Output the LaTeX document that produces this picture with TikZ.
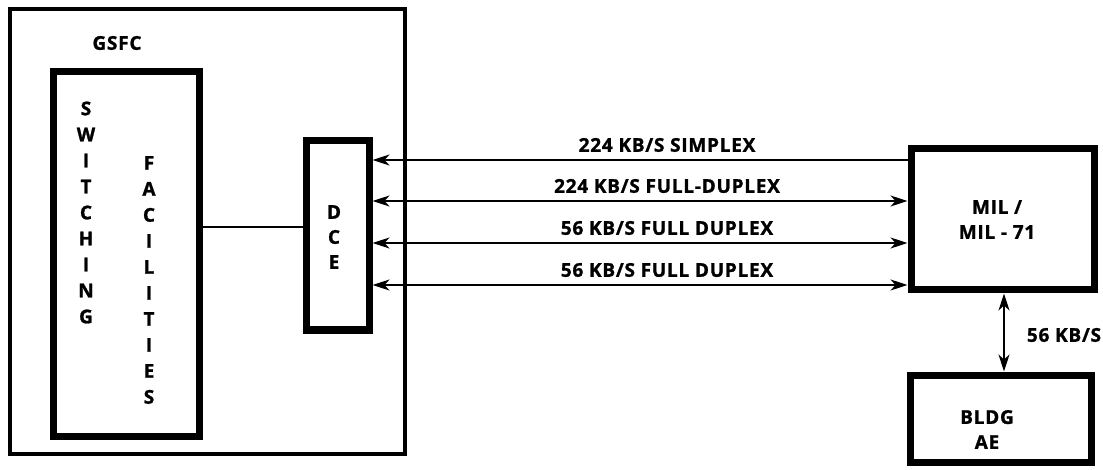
\documentclass[tikz,border=0pt]{standalone}
\usepackage{fontspec}
\newfontfamily\labfont{Open Sans}[LetterSpace=4, BoldFeatures={FakeBold=1.2}]
\usetikzlibrary{arrows.meta}
\begin{document}
\begin{tikzpicture}[x=1pt,y=-1pt,
  thickbox/.style={draw, line width=7pt, rectangle, inner sep=0pt},
  outerbox/.style={draw, line width=4pt, rectangle, inner sep=0pt},
  lbl/.style={font={\labfont\bfseries\fontsize{19}{25}\selectfont}, align=center, inner sep=0pt},
  col/.style={font={\labfont\bfseries\fontsize{19}{26}\selectfont}, align=center, inner sep=0pt},
  conn/.style={line width=2pt},
  mytip/.tip={Stealth[length=17pt,width=11pt,inset=5pt]}
]
\useasboundingbox[fill=white] (0,0) rectangle (1103,470);
% boxes
\node[outerbox, minimum width=395pt, minimum height=445pt] (gsfc) at (207.5,231.5) {};
\node[thickbox, minimum width=146pt, minimum height=364pt] (sw) at (126,254) {};
\node[thickbox, minimum width=63pt, minimum height=189pt] (dce) at (337.5,235.5) {};
\node[thickbox, minimum width=183pt, minimum height=141pt] (mil) at (1002.5,219.5) {};
\node[thickbox, minimum width=181pt, minimum height=87pt] (bldg) at (1000.5,418.5) {};
% texts
\node[lbl] (tgsfc) at (117,43) {GSFC};
\node[col] (tsw) at (86,212.5) {S\\W\\I\\T\\C\\H\\I\\N\\G};
\node[col] (tfac) at (149,280) {F\\A\\C\\I\\L\\I\\T\\I\\E\\S};
\node[col, font={\labfont\bfseries\fontsize{19}{25}\selectfont}] (tdce) at (334,237) {D\\C\\E};
\node[lbl] (tmil) at (997,219.5) {MIL /\\MIL - 71};
\node[lbl] (tbldg) at (987,429.5) {BLDG\\AE};
% connectors
\draw[conn] (sw.east |- 0,227) -- (dce.west |- 0,227);
\draw[conn, -{mytip}] (mil.west |- 0,160) -- (dce.east |- 0,160);
\draw[conn, {mytip}-{mytip}] (mil.west |- 0,201) -- (dce.east |- 0,201);
\draw[conn, {mytip}-{mytip}] (mil.west |- 0,243) -- (dce.east |- 0,243);
\draw[conn, {mytip}-{mytip}] (mil.west |- 0,285) -- (dce.east |- 0,285);
\draw[conn, {mytip}-{mytip}] (mil.south -| 1004,0) -- (bldg.north -| 1004,0);
% connector labels
\node[lbl] (l1) at (667,145) {224 KB/S SIMPLEX};
\node[lbl] (l2) at (667,186) {224 KB/S FULL-DUPLEX};
\node[lbl] (l3) at (667,228) {56 KB/S FULL DUPLEX};
\node[lbl] (l4) at (667,270) {56 KB/S FULL DUPLEX};
\node[lbl] (l5) at (1064,335) {56 KB/S};
\end{tikzpicture}
\end{document}
